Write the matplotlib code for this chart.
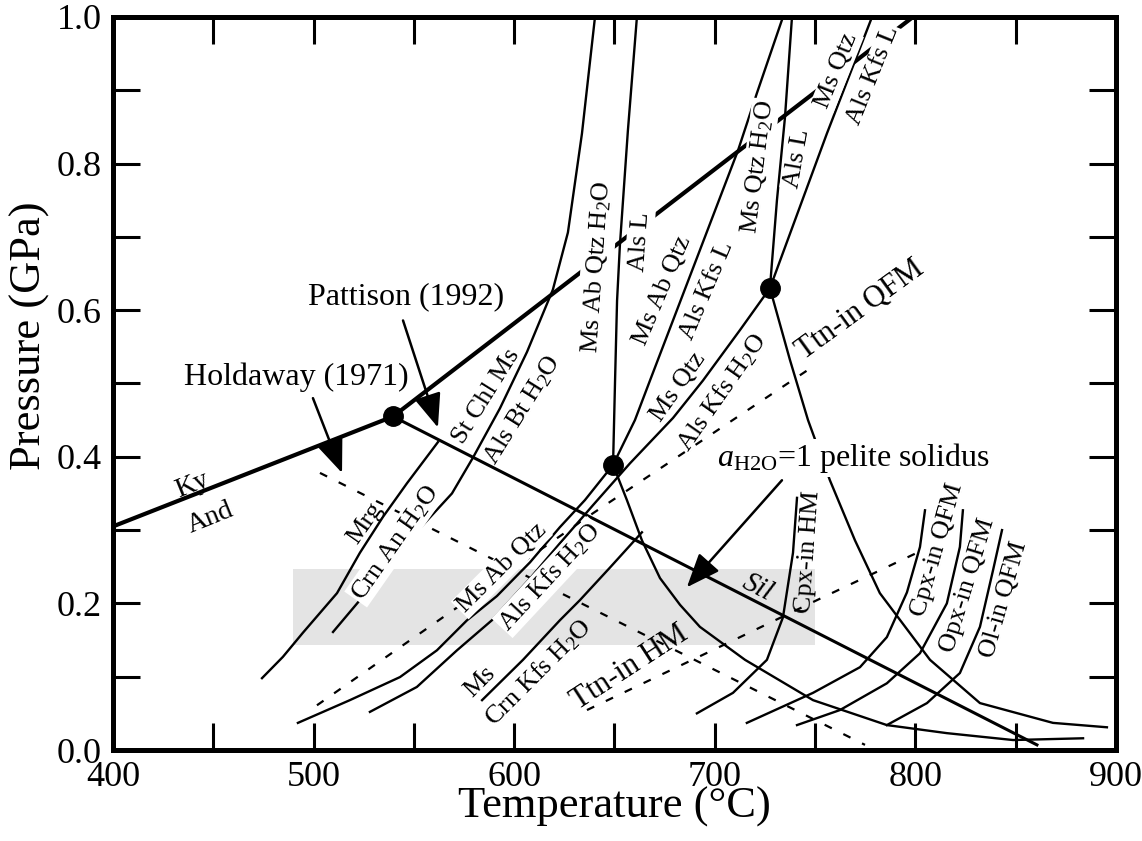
import matplotlib
matplotlib.use('Agg')
import matplotlib.pyplot as plt
from matplotlib.patches import Rectangle
from matplotlib.ticker import MultipleLocator

plt.rcParams['font.family'] = ['Liberation Serif', 'DejaVu Serif']
plt.rcParams['mathtext.fontset'] = 'custom'
plt.rcParams['mathtext.rm'] = 'Liberation Serif'
plt.rcParams['mathtext.it'] = 'Liberation Serif:italic'

# --- data: temperature (C) and pressure (GPa) ---
points_T = [539.6, 649.3, 727.5]       # Al2SiO5 triple point, invariant points
points_P = [0.455, 0.389, 0.630]

ky_and_T = [400, 539.6]
ky_and_P = [0.305, 0.455]
ky_sil_T = [539.6, 798.8]
ky_sil_P = [0.455, 1.0]
and_sil_T = [539.6, 860.6]             # Pattison (1992)
and_sil_P = [0.455, 0.007]
holdaway_T = [503.2, 774.9]            # Holdaway (1971)
holdaway_P = [0.378, 0.007]

mrg_T = [474.3, 484.7, 494.7, 511.7, 523.1, 534.6, 546.6, 562.0]
mrg_P = [0.098, 0.127, 0.160, 0.214, 0.269, 0.318, 0.364, 0.420]

st_chl_T = [509.7, 523.1, 543.1, 569.0, 579.5, 592.9, 606.4, 619.3, 626.8, 633.8, 640.3]
st_chl_P = [0.161, 0.2045, 0.273, 0.350, 0.399, 0.466, 0.543, 0.628, 0.706, 0.841, 1.0]

ms_ab_h2o_T = [649.3, 650.3, 651.3, 652.7, 656.7, 661.2]
ms_ab_h2o_P = [0.389, 0.504, 0.613, 0.688, 0.845, 1.0]

ms_ab_kfs_T = [649.3, 660.2, 667.7, 692.6, 711.6, 721.0, 734.0]
ms_ab_kfs_P = [0.389, 0.450, 0.504, 0.682, 0.818, 0.896, 1.0]

ms_qtz_h2o_T = [727.5, 731.0, 735.0, 738.5]
ms_qtz_h2o_P = [0.630, 0.750, 0.863, 1.0]

ms_qtz_kfs_T = [727.5, 755.9, 778.4]
ms_qtz_kfs_P = [0.630, 0.841, 1.0]

ms_qtz_sub_T = [528.1, 551.5, 571.5, 588.9, 607.9, 622.8, 639.3, 657.7, 679.2, 694.1, 712.6, 727.5]
ms_qtz_sub_P = [0.052, 0.086, 0.136, 0.177, 0.234, 0.282, 0.334, 0.391, 0.453, 0.504, 0.573, 0.630]

ms_ab_sub_T = [492.2, 518.1, 543.1, 561.5, 576.5, 591.4, 607.9, 622.8, 635.3, 649.3]
ms_ab_sub_P = [0.037, 0.068, 0.0995, 0.136, 0.177, 0.210, 0.256, 0.304, 0.341, 0.389]

ms_crn_T = [584.0, 604.4, 622.8, 632.8, 647.8, 663.7]
ms_crn_P = [0.068, 0.123, 0.177, 0.2045, 0.249, 0.297]

solidus_low_T = [649.3, 656.2, 663.7, 672.7, 682.7, 692.6, 715.1, 749.0, 785.8, 815.7, 848.7, 883.6]
solidus_low_P = [0.389, 0.341, 0.286, 0.2345, 0.198, 0.168, 0.123, 0.068, 0.034, 0.023, 0.0136, 0.016]

solidus_high_T = [727.5, 737.5, 746.5, 757.4, 769.9, 782.3, 807.3, 832.2, 868.6, 895.5]
solidus_high_P = [0.630, 0.532, 0.450, 0.368, 0.286, 0.214, 0.123, 0.064, 0.037, 0.031]

cpx_hm_T = [741.0, 739.0, 734.0, 726.0, 709.1, 691.1]
cpx_hm_P = [0.344, 0.269, 0.181, 0.123, 0.078, 0.050]

cpx_qfm_T = [804.8, 802.3, 795.8, 785.8, 772.4, 749.0, 716.0]
cpx_qfm_P = [0.327, 0.277, 0.215, 0.154, 0.113, 0.078, 0.037]

opx_qfm_T = [823.7, 822.2, 815.7, 802.3, 785.8, 762.4, 741.0]
opx_qfm_P = [0.327, 0.277, 0.200, 0.132, 0.091, 0.0545, 0.034]

ol_qfm_T = [843.2, 838.7, 832.2, 822.2, 805.8, 785.8]
ol_qfm_P = [0.300, 0.245, 0.168, 0.105, 0.064, 0.034]

ttn_qfm_T = [501.7, 564.5, 639.3, 750.0]
ttn_qfm_P = [0.061, 0.181, 0.323, 0.525]

ttn_hm_T = [636.3, 712.6, 751.0, 800.8]
ttn_hm_P = [0.0545, 0.154, 0.2045, 0.269]

band_T = (490, 750)
band_P = (0.143, 0.247)

# --- figure ---
fig = plt.figure(figsize=(11.42, 8.41), dpi=100)
ax = fig.add_axes([0.0989, 0.1082, 0.8783, 0.8716])
ax.set_xlim(400, 900)
ax.set_ylim(0, 1)

ax.add_patch(Rectangle((band_T[0], band_P[0]), band_T[1] - band_T[0], band_P[1] - band_P[0],
                       fc='#e4e4e4', ec='none', zorder=0))

thin = dict(color='k', lw=1.7, zorder=2)
dash = dict(color='k', lw=1.6, ls=(0, (3.6, 5.8)), zorder=2)

ax.plot(ky_and_T, ky_and_P, color='k', lw=3.0, zorder=2, solid_capstyle='butt')
ax.plot(ky_sil_T, ky_sil_P, color='k', lw=3.0, zorder=2, solid_capstyle='butt')
ax.plot(and_sil_T, and_sil_P, color='k', lw=2.2, zorder=2)
ax.plot(holdaway_T, holdaway_P, **dash)

for T, P in [(mrg_T, mrg_P), (st_chl_T, st_chl_P), (ms_ab_h2o_T, ms_ab_h2o_P),
             (ms_ab_kfs_T, ms_ab_kfs_P), (ms_qtz_h2o_T, ms_qtz_h2o_P),
             (ms_qtz_kfs_T, ms_qtz_kfs_P), (ms_qtz_sub_T, ms_qtz_sub_P),
             (ms_ab_sub_T, ms_ab_sub_P), (ms_crn_T, ms_crn_P),
             (solidus_low_T, solidus_low_P), (solidus_high_T, solidus_high_P),
             (cpx_hm_T, cpx_hm_P), (cpx_qfm_T, cpx_qfm_P),
             (opx_qfm_T, opx_qfm_P), (ol_qfm_T, ol_qfm_P)]:
    ax.plot(T, P, **thin)

ax.plot(ttn_qfm_T, ttn_qfm_P, **dash)
ax.plot(ttn_hm_T, ttn_hm_P, **dash)

ax.plot(points_T, points_P, 'o', color='k', ms=14, zorder=5)


def label(s, T, P, rot=0, size=19, box=False, pad=0.06, **kw):
    bb = dict(boxstyle='square,pad=%g' % pad, fc='white', ec='none') if box else None
    ax.text(T, P, s, rotation=rot, rotation_mode='anchor', ha='center', va='center',
            fontsize=size, bbox=bb, zorder=3, **kw)


H2O = r'H$_2$O'
label('Ky', 439.4, 0.361, 22, 20)
label('And', 448.4, 0.316, 22, 20)
label('Sil', 721.5, 0.222, -27, 21, style='italic')
label('Holdaway (1971)', 491.2, 0.509, 0, 23)
label('Pattison (1992)', 546.1, 0.619, 0, 23)
label('St Chl Ms', 585.9, 0.483, 58)
label('Als Bt ' + H2O, 603.9, 0.4635, 58)
label('Mrg', 525.6, 0.3095, 55)
label('Crn An ' + H2O, 540.6, 0.282, 55, box=True)
label('Ms Ab Qtz ' + H2O, 641.3, 0.6585, 86, box=True, pad=0.15)
label('Als L', 662.7, 0.6925, 86, box=True, pad=0.1)
label('Ms Ab Qtz', 674.2, 0.627, 67)
label('Als Kfs L', 696.1, 0.627, 67)
label('Ms Qtz ' + H2O, 721.5, 0.795, 83, box=True)
label('Als L', 741.0, 0.807, 80, box=True)
label('Ms Qtz', 760.9, 0.927, 68, box=True)
label('Als Kfs L', 778.9, 0.920, 68, box=True)
label('Ms Qtz', 681.7, 0.495, 55)
label('Als Kfs ' + H2O, 703.6, 0.487, 55)
label('Ttn-in QFM', 772.4, 0.601, 36, 22)
label(r'$a_{\rm H2O}$=1 pelite solidus', 768.9, 0.398, 0, 23, box=True)
label('Ms Ab Qtz', 593.9, 0.248, 45, box=True)
label('Als Kfs ' + H2O, 617.8, 0.236, 47, box=True)
label('Ms', 583.0, 0.093, 45)
label('Crn Kfs ' + H2O, 611.9, 0.106, 45)
label('Ttn-in HM', 657.7, 0.113, 33, 22)
label('Cpx-in HM', 746.5, 0.270, 86)
label('Cpx-in QFM', 810.8, 0.273, 74)
label('Opx-in QFM', 826.2, 0.225, 73)
label('Ol-in QFM', 844.2, 0.2045, 74)

arrow = dict(arrowstyle='-|>,head_length=0.95,head_width=0.38', mutation_scale=22,
             color='k', lw=1.8, shrinkA=0, shrinkB=0)
ax.annotate('', xy=(514.2, 0.378), xytext=(499.7, 0.480), arrowprops=arrow, zorder=4)
ax.annotate('', xy=(562.0, 0.440), xytext=(544.6, 0.586), arrowprops=arrow, zorder=4)
ax.annotate('', xy=(686.1, 0.222), xytext=(733.5, 0.368), arrowprops=arrow, zorder=4)

# --- axes styling ---
ax.xaxis.set_major_locator(MultipleLocator(100))
ax.xaxis.set_minor_locator(MultipleLocator(50))
ax.yaxis.set_minor_locator(MultipleLocator(0.1))
ax.set_yticks([0, 0.2, 0.4, 0.6, 0.8, 1.0])
ax.set_yticklabels(['0.0', '0.2', '0.4', '0.6', '0.8', '1.0'])
ax.tick_params(which='both', direction='in', length=19.5, width=2.2,
               top=True, right=True, labelsize=26)
ax.tick_params(axis='x', pad=8)
ax.tick_params(axis='y', pad=8)
for sp in ax.spines.values():
    sp.set_linewidth(3.6)

ax.set_xlabel('Temperature (°C)', fontsize=32, va='center')
ax.xaxis.set_label_coords(0.5, -0.077)
ax.set_ylabel('Pressure (GPa)', fontsize=32, va='center')
ax.yaxis.set_label_coords(-0.083, 0.565)

fig.savefig('out.png', dpi=100)
